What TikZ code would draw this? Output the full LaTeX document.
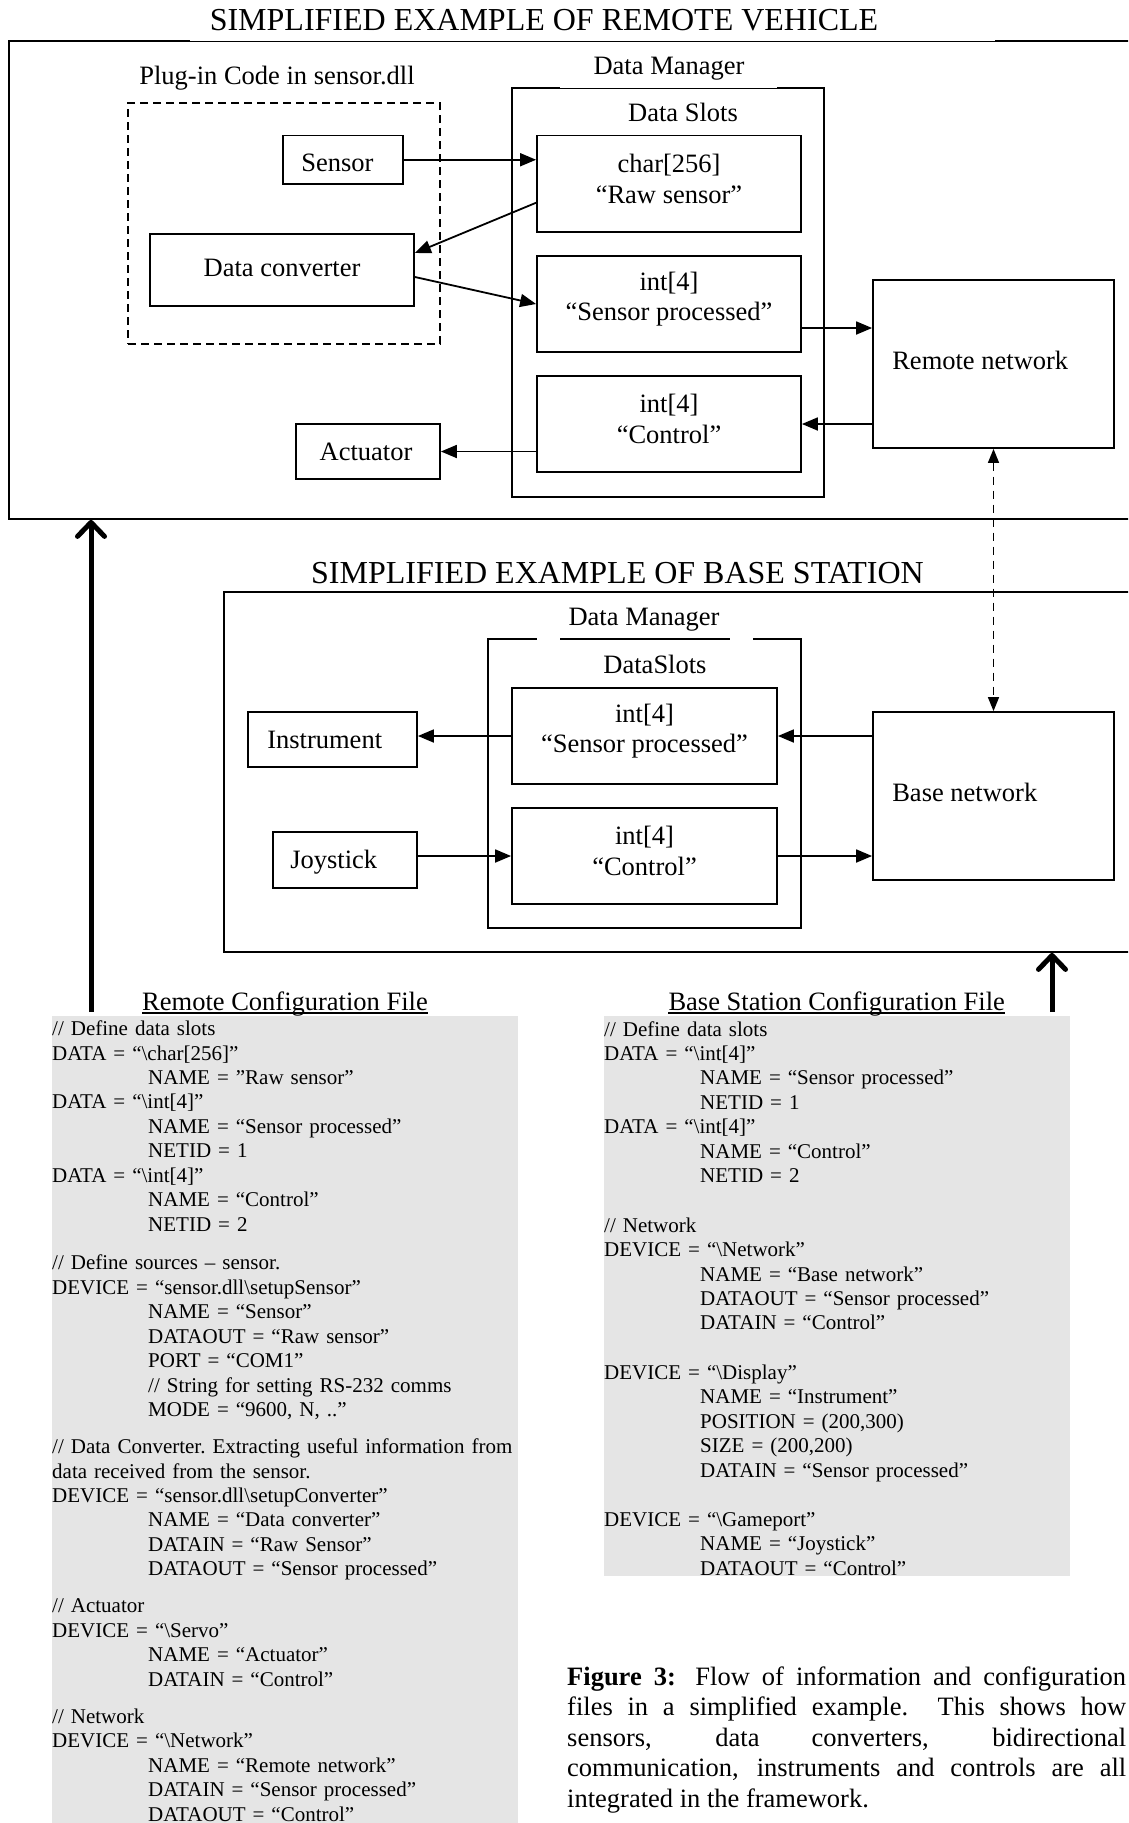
\documentclass[tikz,border=0pt]{standalone}
\usepackage{fontspec}
\setmainfont{Liberation Serif}
\usetikzlibrary{arrows.meta}
\newcommand\labf{\fontsize{26.5}{30.5}\selectfont}
\newcommand\titf{\fontsize{32}{36}\selectfont}
\newcommand\cfgf{\fontsize{21}{24.45}\selectfont}
\newcommand\ind{\hspace*{96pt}}
\definecolor{cfggray}{RGB}{229,229,229}
\begin{document}
\begin{tikzpicture}[x=1pt,y=-1pt,
 frame/.style={draw, line width=1.8pt, inner sep=0pt},
 boxtxt/.style={inner sep=0pt, align=center, font=\labf},
 lbl/.style={inner sep=0pt, anchor=base, font=\labf},
 arr/.style={line width=1.8pt, -{Triangle[length=16pt,width=13pt]}},
 bigarr/.style={line width=5pt, -{Straight Barb[round,length=14pt,width=27pt]}},
 netlink/.style={line width=1.4pt, dash pattern=on 8pt off 6pt,
   {Triangle[length=14pt,width=11pt]}-{Triangle[length=14pt,width=11pt]}},
 grayfield/.style={fill=cfggray, inner sep=0pt, anchor=north west},
 cfgtext/.style={inner sep=0pt, anchor=base west, text width=470pt, align=left, font=\cfgf},
]
\useasboundingbox (0,0) rectangle (1128,1823);
\fill[white] (0,0) rectangle (1128,1823);
\clip (0,0) rectangle (1128,1823);

% ---------------- remote vehicle ----------------
\node[frame, minimum width=1141pt, minimum height=478pt] (remote) at (579.5,280) {};
\draw[white, line width=2.4pt] (190,41) -- (995,41);
\draw[line width=0.9pt] (190,41) -- (995,41);
\node[lbl, font=\titf] (rtitle) at (544,30) {SIMPLIFIED EXAMPLE OF REMOTE VEHICLE};

\node[draw, line width=1.8pt, dash pattern=on 8pt off 5pt, inner sep=0pt,
      minimum width=312pt, minimum height=241pt] (plug) at (284,223.5) {};
\node[lbl] (pluglbl) at (277,84) {Plug-in Code in sensor.dll};

\node[frame, minimum width=120pt, minimum height=48.5pt] (sensor) at (343,159.75) {};
\node[boxtxt, anchor=west] (sensortxt) at ([xshift=19pt,yshift=-3pt]sensor.west) {Sensor};
\node[frame, minimum width=264pt, minimum height=72pt] (dconv) at (282,270) {};
\node[boxtxt] (dconvtxt) at ([yshift=2pt]dconv.center) {Data converter};

\node[frame, minimum width=312pt, minimum height=409pt] (rdm) at (668,292.5) {};
\draw[white, line width=2.4pt] (560,88) -- (777,88);
\draw[line width=0.9pt] (560,88) -- (777,88);
\node[lbl] (rdmlbl) at (669,74) {Data Manager};
\node[lbl] (rslotlbl) at (683,121.5) {Data Slots};

\node[frame, minimum width=264pt, minimum height=96.5pt] (raw) at (669,183.75) {};
\node[boxtxt] (rawtxt) at ([yshift=5pt]raw.center) {char[256]\\“Raw sensor”};
\node[frame, minimum width=264pt, minimum height=96pt] (sproc) at (669,304) {};
\node[boxtxt] (sproctxt) at ([yshift=5pt]sproc.center) {int[4]\\“Sensor processed”};
\node[frame, minimum width=264pt, minimum height=96pt] (ctrl) at (669,424) {};
\node[boxtxt] (ctrltxt) at ([yshift=5pt]ctrl.center) {int[4]\\“Control”};
\node[frame, minimum width=241pt, minimum height=168pt] (rnet) at (993.5,364) {};
\node[boxtxt, anchor=west] (rnettxt) at ([xshift=20pt,yshift=4pt]rnet.west) {Remote network};
\node[frame, minimum width=144pt, minimum height=55pt] (act) at (368,451.5) {};
\node[boxtxt] (acttxt) at ([xshift=-2pt]act.center) {Actuator};

\draw[arr] (sensor.east) -- (raw.west |- sensor.east);
\draw[arr] ([yshift=-19pt]raw.west) -- ([yshift=17pt]dconv.east);
\draw[arr] ([yshift=-7pt]dconv.east) -- (sproc.west);
\coordinate (spout) at ([yshift=-24pt]sproc.east);
\draw[arr] (spout) -- (spout -| rnet.west);
\draw[arr] (rnet.west |- ctrl.east) -- (ctrl.east);
\draw[arr] (ctrl.west |- act.east) -- (act.east);

% ---------------- base station ----------------
\node[frame, minimum width=926pt, minimum height=360pt] (base) at (687,772) {};
\node[lbl, font=\titf] (btitle) at (617.5,583) {SIMPLIFIED EXAMPLE OF BASE STATION};
\node[frame, minimum width=313pt, minimum height=289pt] (bdm) at (644.5,783.5) {};
\draw[white, line width=2.6pt] (537,639) -- (560,639) (730,639) -- (753,639);
\node[lbl] (bdmlbl) at (644,625.5) {Data Manager};
\node[lbl] (bslotlbl) at (655,673.5) {DataSlots};

\node[frame, minimum width=265pt, minimum height=96pt] (bsproc) at (644.5,736) {};
\node[boxtxt] (bsproctxt) at ([yshift=5pt]bsproc.center) {int[4]\\“Sensor processed”};
\node[frame, minimum width=265pt, minimum height=96pt] (bctrl) at (644.5,856) {};
\node[boxtxt] (bctrltxt) at ([yshift=5pt]bctrl.center) {int[4]\\“Control”};
\node[frame, minimum width=169pt, minimum height=55pt] (instr) at (332.5,739.5) {};
\node[boxtxt, anchor=west] (instrtxt) at ([xshift=20pt]instr.west) {Instrument};
\node[frame, minimum width=144pt, minimum height=56pt] (joy) at (345,860) {};
\node[boxtxt, anchor=west] (joytxt) at ([xshift=18pt,yshift=-2pt]joy.west) {Joystick};
\node[frame, minimum width=241pt, minimum height=168pt] (bnet) at (993.5,796) {};
\node[boxtxt, anchor=west] (bnettxt) at ([xshift=20pt,yshift=4pt]bnet.west) {Base network};

\draw[arr] (bnet.west |- bsproc.east) -- (bsproc.east);
\draw[arr] (bsproc.west) -- (bsproc.west -| instr.east);
\draw[arr] (joy.east |- bctrl.west) -- (bctrl.west);
\draw[arr] (bctrl.east) -- (bctrl.east -| bnet.west);

\draw[netlink] (rnet.south) -- (bnet.north);

% ---------------- configuration files ----------------
\node[grayfield, minimum width=466pt, minimum height=830pt] (rgray) at (52,1016) {};
\node[grayfield, minimum width=466pt, minimum height=560pt] (bgray) at (604,1016) {};

\node[lbl] (rcfg) at (285,1010) {Remote Configuration File};
\draw[line width=1.3pt] ([yshift=-3pt]rcfg.base west) -- ([yshift=-3pt]rcfg.base east);
\node[lbl] (bcfg) at (836.7,1010) {Base Station Configuration File};
\draw[line width=1.3pt] ([yshift=-3pt]bcfg.base west) -- ([yshift=-3pt]bcfg.base east);

\coordinate (rup) at (91,1012);
\draw[bigarr] (rup) -- (rup |- remote.south);
\coordinate (bup) at (1052,1012);
\draw[bigarr] (bup) -- (bup |- base.south);

\node[cfgtext] (rtext) at (52,1035.6) {%
// Define data slots\\
DATA = “\textbackslash char[256]”\\
\ind NAME = ”Raw sensor”\\
DATA = “\textbackslash int[4]”\\
\ind NAME = “Sensor processed”\\
\ind NETID = 1\\
DATA = “\textbackslash int[4]”\\
\ind NAME = “Control”\\
\ind NETID = 2\\[14.2pt]
// Define sources – sensor.\\
DEVICE = “sensor.dll\textbackslash setupSensor”\\
\ind NAME = “Sensor”\\
\ind DATAOUT = “Raw sensor”\\
\ind PORT = “COM1”\\
\ind // String for setting RS-232 comms\\
\ind MODE = “9600, N, ..”\\[12.6pt]
// Data Converter.\ Extracting useful information from\\
data received from the sensor.\\
DEVICE = “sensor.dll\textbackslash setupConverter”\\
\ind NAME = “Data converter”\\
\ind DATAIN = “Raw Sensor”\\
\ind DATAOUT = “Sensor processed”\\[12.6pt]
// Actuator\\
DEVICE = “\textbackslash Servo”\\
\ind NAME = “Actuator”\\
\ind DATAIN = “Control”\\[12.6pt]
// Network\\
DEVICE = “\textbackslash Network”\\
\ind NAME = “Remote network”\\
\ind DATAIN = “Sensor processed”\\
\ind DATAOUT = “Control”};

\node[cfgtext] (btext) at (604,1036) {%
// Define data slots\\
DATA = “\textbackslash int[4]”\\
\ind NAME = “Sensor processed”\\
\ind NETID = 1\\
DATA = “\textbackslash int[4]”\\
\ind NAME = “Control”\\
\ind NETID = 2\\[25pt]
// Network\\
DEVICE = “\textbackslash Network”\\
\ind NAME = “Base network”\\
\ind DATAOUT = “Sensor processed”\\
\ind DATAIN = “Control”\\[24.8pt]
DEVICE = “\textbackslash Display”\\
\ind NAME = “Instrument”\\
\ind POSITION = (200,300)\\
\ind SIZE = (200,200)\\
\ind DATAIN = “Sensor processed”\\[25pt]
DEVICE = “\textbackslash Gameport”\\
\ind NAME = “Joystick”\\
\ind DATAOUT = “Control”};

% ---------------- caption ----------------
\node[inner sep=0pt, anchor=base west, text width=559pt, align=justify, font=\labf] (caption) at (567,1685)
{\textbf{Figure 3:} Flow of information and configuration\linebreak
files in a simplified example.\ \ This shows how\linebreak
sensors, data converters, bidirectional\linebreak
communication, instruments and controls are all\linebreak
integrated in the framework.};
\end{tikzpicture}
\end{document}
